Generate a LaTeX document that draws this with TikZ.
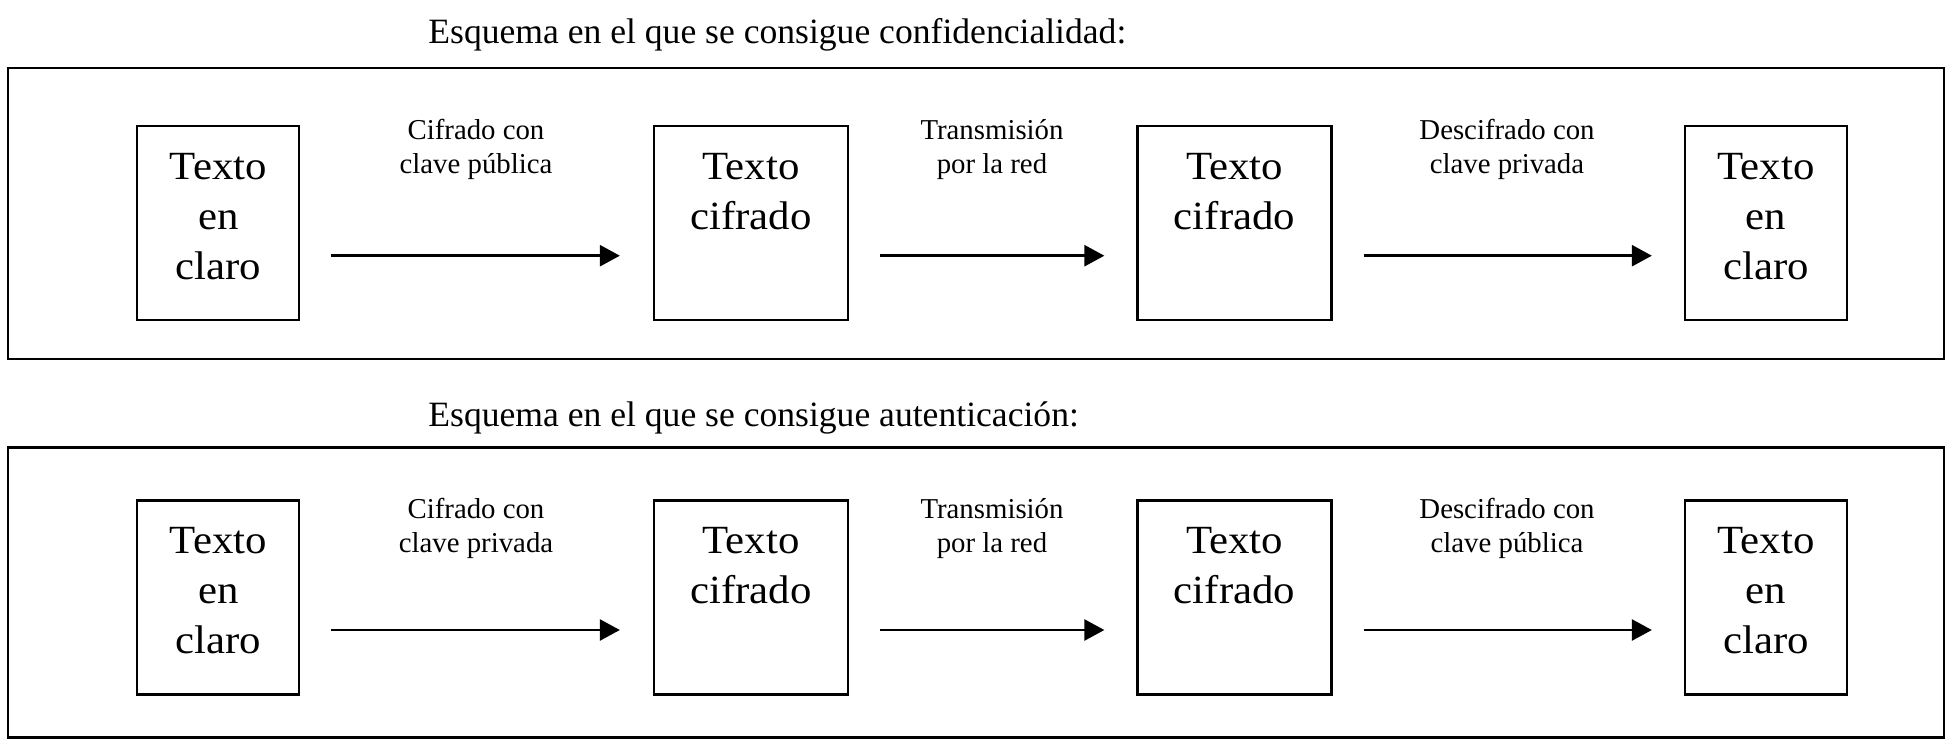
\documentclass[tikz,border=0pt]{standalone}
\usepackage{fontspec}
\setmainfont{Liberation Serif}
\newfontfamily\boxfont[FakeStretch=1.07]{Liberation Serif}
\usetikzlibrary{arrows.meta}
\newcommand{\mylines}[1]{\begin{tabular}[t]{@{}c@{}}#1\end{tabular}}
\tikzset{
  x=0.5pt, y=-0.5pt,
  frame/.style={draw, line width=1.25pt},
  boxnode/.style={draw, line width=1.15pt, inner sep=0pt, minimum width=81pt, minimum height=97pt},
  cifbox/.style={draw, line width=1.15pt, inner sep=0pt, minimum width=97pt, minimum height=97pt},
  boxtext/.style={anchor=base, inner sep=0pt, font=\boxfont\fontsize{20}{25}\selectfont},
  lbl/.style={anchor=base, inner sep=0pt, font=\fontsize{14.4}{17}\selectfont},
  ttl/.style={anchor=base west, inner sep=0pt, font=\fontsize{17.8}{21}\selectfont},
  arr/.style={line width=1.3pt, -{Triangle[length=10pt,width=10.5pt]}}
}
\begin{document}
\begin{tikzpicture}
\useasboundingbox (0,0) rectangle (1954,750);
% ---------- Row 1 ----------
\node[ttl] (t1) at (428,43) {Esquema en el que se consigue confidencialidad:};
\draw[frame] (8,68) rectangle (1944,359);
\node[boxnode] (a1) at (218.3,223) {};
\node[cifbox] (a2) at (751,223) {};
\node[cifbox] (a3) at (1234.5,223) {};
\node[boxnode] (a4) at (1766,223) {};
\node[boxtext] (ta1) at (218.3,179) {\mylines{Texto\\en\\claro}};
\node[boxtext] (ta2) at (751,179) {\mylines{Texto\\cifrado}};
\node[boxtext] (ta3) at (1234.5,179) {\mylines{Texto\\cifrado}};
\node[boxtext] (ta4) at (1766,179) {\mylines{Texto\\en\\claro}};
\node[lbl] (la1) at (476,139) {\mylines{Cifrado con\\clave pública}};
\node[lbl] (la2) at (992,139) {\mylines{Transmisión\\por la red}};
\node[lbl] (la3) at (1507,139) {\mylines{Descifrado con\\clave privada}};
\draw[arr] ([shift={(31,32.7)}]a1.east) -- ([shift={(-33,32.7)}]a2.west);
\draw[arr] ([shift={(31,32.7)}]a2.east) -- ([shift={(-32,32.7)}]a3.west);
\draw[arr] ([shift={(31,32.7)}]a3.east) -- ([shift={(-32,32.7)}]a4.west);
% ---------- Row 2 ----------
\node[ttl] (t2) at (428,426) {Esquema en el que se consigue autenticación:};
\draw[frame] (8,447.3) rectangle (1944,737.7);
\node[boxnode] (b1) at (218.3,597.5) {};
\node[cifbox] (b2) at (751,597.5) {};
\node[cifbox] (b3) at (1234.5,597.5) {};
\node[boxnode] (b4) at (1766,597.5) {};
\node[boxtext] (tb1) at (218.3,553.3) {\mylines{Texto\\en\\claro}};
\node[boxtext] (tb2) at (751,553.3) {\mylines{Texto\\cifrado}};
\node[boxtext] (tb3) at (1234.5,553.3) {\mylines{Texto\\cifrado}};
\node[boxtext] (tb4) at (1766,553.3) {\mylines{Texto\\en\\claro}};
\node[lbl] (lb1) at (476,518.7) {\mylines{Cifrado con\\clave privada}};
\node[lbl] (lb2) at (992,518.7) {\mylines{Transmisión\\por la red}};
\node[lbl] (lb3) at (1507,518.7) {\mylines{Descifrado con\\clave pública}};
\draw[arr] ([shift={(31,32.5)}]b1.east) -- ([shift={(-33,32.5)}]b2.west);
\draw[arr] ([shift={(31,32.5)}]b2.east) -- ([shift={(-32,32.5)}]b3.west);
\draw[arr] ([shift={(31,32.5)}]b3.east) -- ([shift={(-32,32.5)}]b4.west);
\end{tikzpicture}
\end{document}
